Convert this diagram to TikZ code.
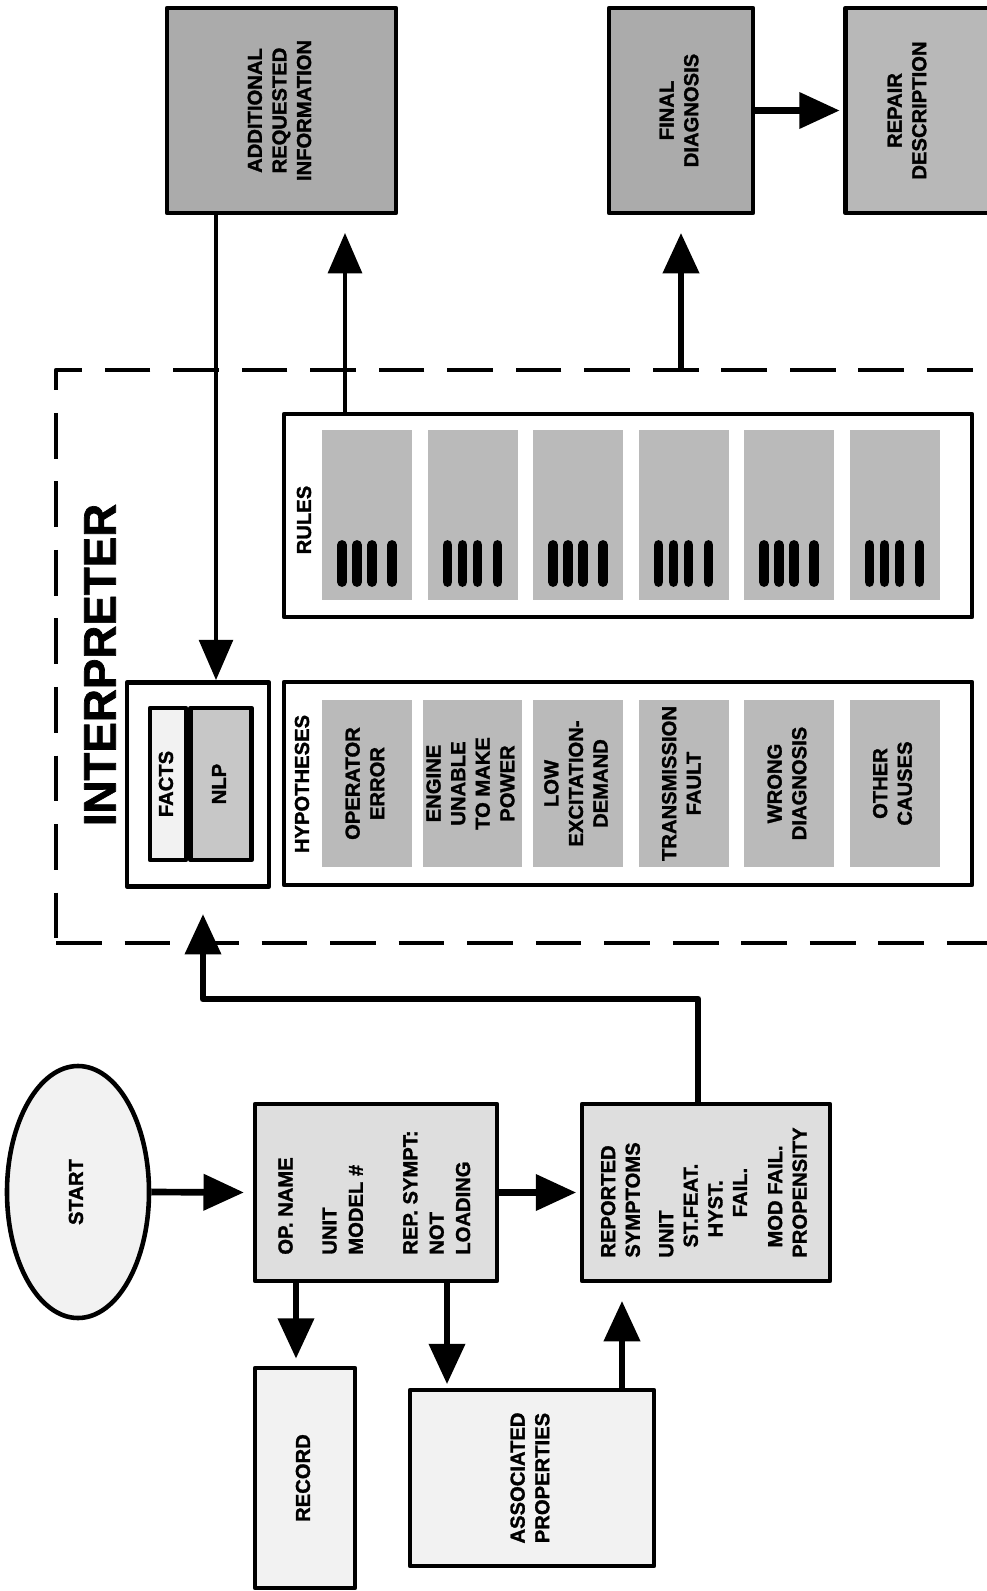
\documentclass[tikz,border=0pt]{standalone}
\usepackage{fontspec}
\setmainfont{Liberation Sans}[BoldFeatures={FakeBold=1.5}]
\usepackage{graphicx}
\usetikzlibrary{arrows.meta,positioning,shapes.geometric}
\newcommand{\lbl}{\bfseries\fontsize{11.5}{14}\selectfont}
\newcommand{\vlines}[1]{\rotatebox{90}{\begin{tabular}{@{}c@{}}#1\end{tabular}}}
\newcommand{\vlinesl}[1]{\rotatebox{90}{\begin{tabular}{@{}l@{}}#1\end{tabular}}}
\tikzset{
  every picture/.append style={line cap=round,line join=round},
  dg size/.style 2 args={minimum width=#1*0.2mm,minimum height=#2*0.2mm},
  dg box/.style={draw,line width=2.6pt,inner sep=0pt,font=\lbl},
  dg pale/.style={dg box,fill=black!5},
  dg light/.style={dg box,fill=black!13},
  dg dark/.style={dg box,fill=black!33},
  dg column/.style={fill=black!27,inner sep=0pt,font=\lbl},
  dg bar/.style={line width=5.6pt},
  dg frame/.style={draw,line width=2.4pt,dash pattern=on 26pt off 13pt,line cap=butt,inner sep=0pt},
  dg flow/.style={line width=3.8pt,line cap=butt,-{Triangle[length=23pt,width=20pt]}},
  dg thin flow/.style={line width=2.8pt,line cap=butt,-{Triangle[length=23pt,width=19pt]}}
}

\begin{document}
\begin{tikzpicture}[x=0.2mm,y=-0.2mm]
  \useasboundingbox (0,0) rectangle (987,1591);

  \node[dg frame, dg size={960}{573}] (interp) at (536,656.5) {};
  \node[font=\bfseries\fontsize{26}{30}\selectfont, rotate=90] (title) at (100,665) {INTERPRETER};

  \node[dg pale, ellipse, dg size={142}{252}] (start) at (78,1192) {\vlines{START}};
  \node[dg light, dg size={242}{177}] (op) at (376,1192.5)
    {\fontsize{11.5}{15}\selectfont\vlinesl{OP. NAME\\[10pt]UNIT\\MODEL \#\\[16pt]REP. SYMPT:\\NOT\\LOADING}};
  \node[dg pale, dg size={100}{220}] (record) at (305,1478) {\vlines{RECORD}};
  \node[dg pale, dg size={244}{176}] (assoc) at (532,1478) {\vlines{ASSOCIATED\\PROPERTIES}};
  \node[dg light, dg size={248}{177}] (reported) at (706,1192.5)
    {\vlinesl{REPORTED\\SYMPTOMS\\[5pt]UNIT\\\hspace{0.5em}ST.FEAT.\\\hspace{1em}HYST.\\\hspace{2em}FAIL.\\[6pt]\hspace{0.5em}MOD FAIL.\\PROPENSITY}};

  \node[dg box, dg size={142}{204}] (facts) at (198,784.5) {};
  \node[dg pale, dg size={36}{152}] (factlist) at (168,784) {\vlines{FACTS}};
  \node[dg dark, fill=black!22, dg size={61}{152}, right=0pt of factlist] (nlp) {\vlines{NLP}};

  \node[dg box, dg size={688}{203}] (hyp) at (628,783.5) {};
  \node[font=\lbl, rotate=90] (hyptitle) at (302,784) {HYPOTHESES};
  \foreach \i/\txt in {0/{OPERATOR\\ERROR},1/{ENGINE\\UNABLE\\TO MAKE\\POWER},2/{LOW\\EXCITATION-\\DEMAND},3/{TRANSMISSION\\FAULT},4/{WRONG\\DIAGNOSIS},5/{OTHER\\CAUSES}}
    \node[dg column, dg size={90}{167}] (hyp\i) at ({367+105.5*\i},783.5) {\vlines{\txt}};

  \node[dg box, dg size={688}{203}] (rules) at (628,515.5) {};
  \node[font=\lbl, rotate=90] (rulestitle) at (304,520) {RULES};
  \foreach \i in {0,...,5} {
    \node[dg column, dg size={90}{170}] (rule\i) at ({367+105.5*\i},515) {};
    \foreach \dx in {-25,-10,5,25}
      \draw[dg bar] ([shift={(\dx,30)}]rule\i.center) -- ([shift={(\dx,67)}]rule\i.center);
  }

  \node[dg dark, dg size={229}{205}] (extra) at (281.5,110.5) {\vlines{ADDITIONAL\\REQUESTED\\INFORMATION}};
  \node[dg dark, dg size={144}{205}] (final) at (681,110.5) {\vlines{FINAL\\DIAGNOSIS}};
  \node[dg dark, fill=black!28, dg size={175}{205}] (repair) at (933,110.5) {};
  \node[font=\lbl] (repairtext) at (909,110.5) {\vlines{REPAIR\\DESCRIPTION}};

  \coordinate (bend) at (203,999);
  \coordinate (entry) at (203,914);

  \draw[dg flow, shorten >=5pt] (start.east) -- (op.west);
  \draw[dg flow, shorten >=2pt] (op.east) -- (reported.west);
  \draw[dg flow, shorten >=4pt] (op.south -| 296,0) -- (record.north -| 296,0);
  \draw[dg flow, shorten >=2pt] (op.south -| 447,0) -- (assoc.north -| 447,0);
  \draw[dg flow, shorten >=10pt] (assoc.north -| 622,0) -- (reported.south -| 622,0);
  \draw[dg flow] (reported.north -| 698,0) |- (bend) -- (entry);
  \draw[dg thin flow] (extra.south -| 216,0) -- (facts.north -| 216,0);
  \draw[dg thin flow, shorten >=10pt] (rules.north -| 345,0) -- (extra.south -| 345,0);
  \draw[dg flow, shorten >=10pt] (interp.north -| final) -- (final.south);
  \draw[dg flow, shorten >=2pt] (final.east) -- (repair.west);
\end{tikzpicture}
\end{document}
